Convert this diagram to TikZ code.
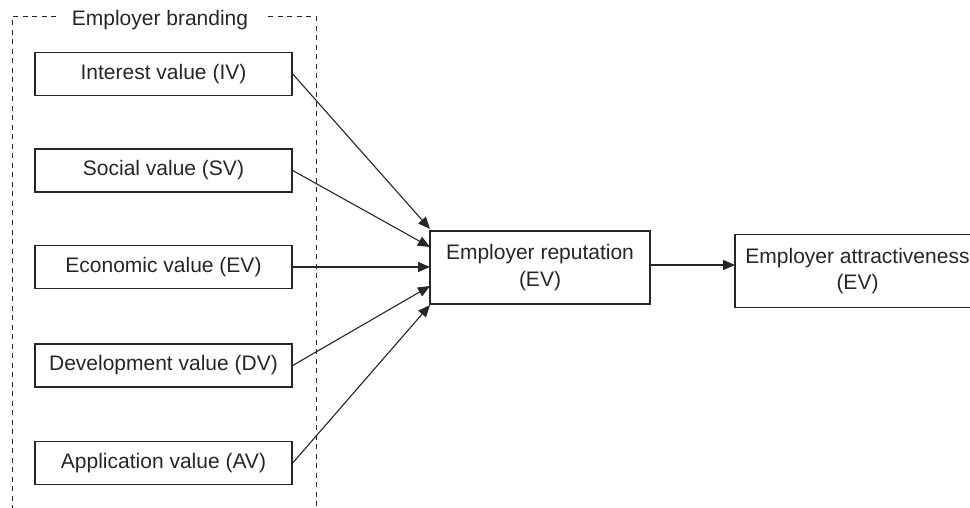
\documentclass[tikz,border=0pt]{standalone}
\usepackage{fontspec}
\setmainfont{Liberation Sans}
\usetikzlibrary{arrows.meta}
\definecolor{ink}{HTML}{262626}
\begin{document}
\begin{tikzpicture}[x=1pt,y=-1pt,
  txt/.style={text=ink,font=\fontsize{21}{26.5}\selectfont},
  vbox/.style={txt,draw=ink,line width=1.4pt,minimum width=257pt,minimum height=43pt,inner sep=0pt},
  bigbox/.style={txt,draw=ink,line width=1.4pt,minimum height=73pt,inner sep=0pt,align=center},
  frame/.style={draw=ink,line width=1pt,dash pattern=on 5pt off 4.5pt},
  arr/.style={draw=ink,line width=1.1pt,-{Triangle[length=12pt,width=10pt]}}]
\useasboundingbox (0,0) rectangle (970,508);
% dashed frame
\draw[frame] (56,17) -- (12,17) -- (12,520);
\draw[frame] (268,17) -- (316,17) -- (316,520);
\node[txt] (title) at (160,20) {Employer branding};
% value boxes
\node[vbox] (iv) at (163.5,74) {Interest value (IV)};
\node[vbox] (sv) at (163.5,170.5) {Social value (SV)};
\node[vbox] (ev) at (163.5,267) {Economic value (EV)};
\node[vbox] (dv) at (163.5,365.5) {Development value (DV)};
\node[vbox] (av) at (163.5,463) {Application value (AV)};
% right boxes
\node[bigbox,minimum width=220pt] (rep) at (540,267.5) {Employer reputation\\(EV)};
\node[bigbox,minimum width=245pt] (att) at (857.5,271) {Employer attractiveness\\(EV)};
% arrow targets
\coordinate (t1) at (430,229);
\coordinate (t2) at (430,247);
\coordinate (t3) at (430,267);
\coordinate (t4) at (430,286);
\coordinate (t5) at (430,305);
\draw[arr] (iv.east) -- (t1);
\draw[arr] (sv.east) -- (t2);
\draw[arr] (ev.east) -- (t3);
\draw[arr] (dv.east) -- (t4);
\draw[arr] (av.east) -- (t5);
\coordinate (s6) at (650,265);
\coordinate (t6) at (735,265);
\draw[arr] (s6) -- (t6);
\end{tikzpicture}
\end{document}
